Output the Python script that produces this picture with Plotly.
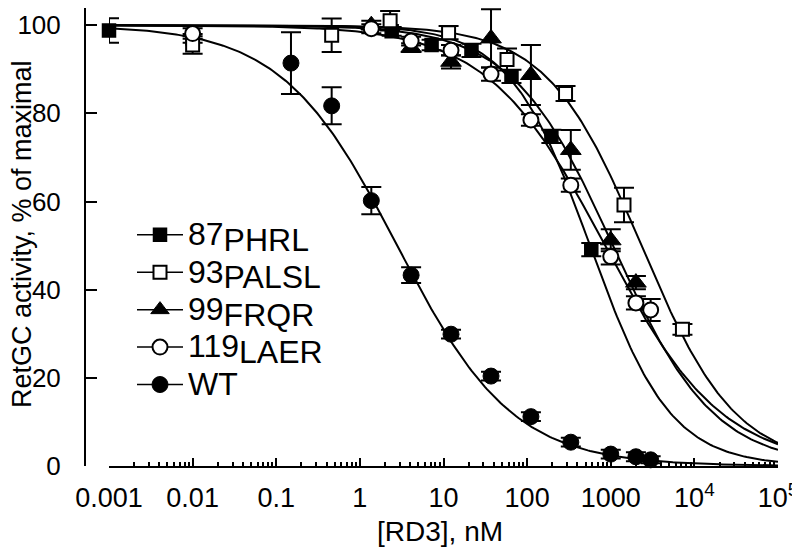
import numpy as np
import plotly.graph_objects as go

# ---------------- data ----------------
wt_x = [0.15, 0.46, 1.37, 4.1, 12.3, 37, 111, 333, 1000, 2000, 3000]
wt_y = [91.4, 81.7, 60.2, 43.3, 29.9, 20.4, 11.2, 5.4, 2.7, 2.1, 1.4]
wt_err = [7.0, 4.2, 3.1, 1.8, 1.0, 1.0, 1.0, 1.0, 1.0, 1.0, 0.8]

p87_x = [0.001, 0.01, 2.4, 7.2, 21.6, 65, 195, 585]
p87_y = [98.8, 97.0, 98.6, 95.5, 94.3, 88.4, 74.8, 49.1]
p87_err = [2.8, 1.0, 1.0, 1.2, 1.5, 1.5, 1.5, 1.5]

p93_x = [0.01, 0.46, 2.3, 11.5, 57.5, 288, 1440, 7200]
p93_y = [95.5, 97.7, 101.0, 98.3, 92.2, 84.5, 59.2, 31.0]
p93_err = [2.0, 3.8, 2.2, 1.5, 2.5, 1.7, 3.9, 1.2]

p99_x = [1.37, 4.1, 12.3, 37, 111, 333, 1000, 2000]
p99_y = [100.0, 94.9, 91.7, 97.0, 88.7, 71.7, 51.2, 41.6]
p99_err = [1.0, 1.0, 1.5, 6.6, 6.8, 4.5, 2.5, 1.5]

p119_x = [0.01, 1.37, 4.1, 12.3, 37, 111, 333, 1000, 2000, 3000]
p119_y = [98.1, 99.2, 96.4, 94.3, 88.9, 78.5, 63.7, 47.5, 37.0, 35.4]
p119_err = [1.2, 1.0, 1.0, 1.2, 1.5, 1.3, 1.5, 1.8, 1.5, 2.5]

# fitted dose-response curves (IC50 in nM, Hill coefficient)
fit_names = ["87PHRL", "93PALSL", "99FRQR", "119LAER", "WT"]
fit_ic50 = [565, 2330, 1060, 850, 2.8]
fit_hill = [0.90, 0.77, 0.72, 0.62, 0.63]

x_tickvals = [0.001, 0.01, 0.1, 1, 10, 100, 1000, 1e4, 1e5]
x_ticktext = ["0.001", "0.01", "0.1", "1", "10", "100", "1000", "10<sup>4</sup>", "10<sup>5</sup>"]
y_tickvals = [0, 20, 40, 60, 80, 100]

legend_num = ["87", "93", "99", "119", ""]
legend_txt = ["PHRL", "PALSL", "FRQR", "LAER", "WT"]

x_title = "[RD3], nM"
y_title = "RetGC activity, % of maximal"

# ---------------- figure ----------------
# (the page adds an 8 px body margin, so the figure is laid out 8 px up/left)
W, H = 792, 543
L, R, T, B = 77, 22, 0, 85
PW, PH = W - L - R, H - T - B   # plot area size in px


def px_x(x):   # figure pixel -> paper x
    return (x - L) / PW


def px_y(y):   # figure pixel -> paper y
    return (H - B - y) / PH


FONT = "Liberation Sans, Arial, sans-serif"
fig = go.Figure()

xs = np.logspace(-3, 5, 300)
for ic, h in zip(fit_ic50, fit_hill):
    fig.add_trace(go.Scatter(x=xs, y=100.0 / (1.0 + (xs / ic) ** h), mode="lines",
                             line=dict(color="black", width=2), showlegend=False,
                             hoverinfo="skip"))

styles = {
    "87PHRL": dict(symbol="square", size=13, color="black", line=dict(color="black", width=1.5)),
    "93PALSL": dict(symbol="square", size=13, color="white", line=dict(color="black", width=2)),
    "99FRQR": dict(symbol="triangle-up", size=18, color="black", line=dict(color="black", width=1)),
    "119LAER": dict(symbol="circle", size=15, color="white", line=dict(color="black", width=2)),
    "WT": dict(symbol="circle", size=16, color="black", line=dict(color="black", width=1)),
}

series = [
    ("87PHRL", p87_x, p87_y, p87_err),
    ("99FRQR", p99_x, p99_y, p99_err),
    ("93PALSL", p93_x, p93_y, p93_err),
    ("119LAER", p119_x, p119_y, p119_err),
    ("WT", wt_x, wt_y, wt_err),
]
for name, x, y, e in series:
    fig.add_trace(go.Scatter(
        x=x, y=y, mode="markers", marker=styles[name], showlegend=False, cliponaxis=False,
        error_y=dict(type="data", array=e, visible=True, color="black", thickness=2, width=10),
    ))

# legend entries (line + marker), in legend order
LF = "font-size:32px"
for num, txt, key in zip(legend_num, legend_txt, fit_names):
    if num:
        label = ("<span style='%s'>%s</span><sub><span style='%s'>%s</span></sub>"
                 % (LF, num, LF, txt))
    else:
        label = "<span style='%s'>%s</span>" % (LF, txt)
    m = dict(styles[key])
    fig.add_trace(go.Scatter(x=[None], y=[None], mode="lines+markers", name=label,
                             marker=m, line=dict(color="black", width=1.5)))

fig.update_layout(
    width=W, height=H,
    margin=dict(l=L, r=R, t=T, b=B, pad=0, autoexpand=False),
    paper_bgcolor="white", plot_bgcolor="white",
    font=dict(family=FONT, color="black", size=27),
    showlegend=True,
    legend=dict(x=px_x(124), y=px_y(203), xanchor="left", yanchor="top",
                bgcolor="rgba(0,0,0,0)", font=dict(size=26.5, family=FONT),
                itemwidth=46, tracegroupgap=0),
    xaxis=dict(
        type="log", range=[-3, 5], domain=[24 / PW, 1], anchor="y", automargin=False,
        showline=True, linecolor="black", linewidth=2, mirror=False,
        showgrid=False, zeroline=False,
        ticks="inside", ticklen=8, tickwidth=2, tickcolor="black",
        tickmode="array", tickvals=x_tickvals, ticktext=x_ticktext,
        tickfont=dict(size=27, family=FONT), ticklabelstandoff=7,
        minor=dict(ticks="inside", ticklen=4, tickwidth=1.5, tickcolor="black",
                   tickmode="array",
                   tickvals=[m * 10.0 ** d for d in range(-3, 5) for m in range(2, 10)],
                   showgrid=False),
    ),
    yaxis=dict(
        range=[0, 103.9], domain=[0, 1], anchor="free", position=0, automargin=False,
        showline=True, linecolor="black", linewidth=2,
        showgrid=False, zeroline=False,
        ticks="inside", ticklen=11, tickwidth=2, tickcolor="black",
        tickmode="array", tickvals=y_tickvals,
        tickfont=dict(size=26, family=FONT), ticklabelstandoff=18,
    ),
    annotations=[
        dict(text=x_title, xref="paper", yref="paper", x=px_x(432), y=px_y(523),
             xanchor="center", yanchor="middle", showarrow=False,
             font=dict(size=28, family=FONT)),
        dict(text=y_title, xref="paper", yref="paper", x=px_x(14), y=px_y(226),
             xanchor="center", yanchor="middle", textangle=-90, showarrow=False,
             borderpad=0, font=dict(size=27, family=FONT)),
    ],
)

fig.write_html("out.html")
